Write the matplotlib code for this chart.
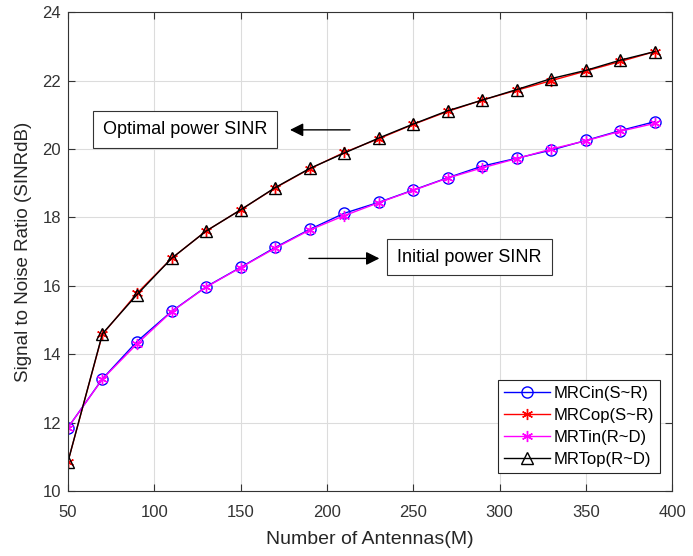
import matplotlib
matplotlib.use("Agg")
import matplotlib.pyplot as plt

plt.rcParams['font.family'] = ['Liberation Sans', 'DejaVu Sans']

antennas = [50, 70, 90, 110, 130, 150, 170, 190, 210, 230, 250, 270, 290, 310, 330, 350, 370, 390]
mrc_in = [11.85, 13.28, 14.37, 15.25, 15.97, 16.54, 17.12, 17.65, 18.12, 18.44, 18.8, 19.16, 19.5, 19.73, 19.97, 20.25, 20.54, 20.8]
mrc_op = [10.85, 14.58, 15.78, 16.8, 17.6, 18.22, 18.86, 19.42, 19.9, 20.3, 20.72, 21.1, 21.43, 21.72, 22.0, 22.28, 22.56, 22.85]
mrt_in = [11.85, 13.27, 14.3, 15.24, 15.96, 16.53, 17.1, 17.63, 18.05, 18.43, 18.79, 19.15, 19.45, 19.72, 20.0, 20.24, 20.52, 20.75]
mrt_op = [10.85, 14.6, 15.74, 16.8, 17.6, 18.22, 18.87, 19.43, 19.88, 20.32, 20.73, 21.12, 21.43, 21.74, 22.06, 22.3, 22.6, 22.85]

labels = ['MRCin(S~R)', 'MRCop(S~R)', 'MRTin(R~D)', 'MRTop(R~D)']
xticks = [50, 100, 150, 200, 250, 300, 350, 400]
yticks = [10, 12, 14, 16, 18, 20, 22, 24]

fig = plt.figure(figsize=(6.93, 5.56), dpi=100)
ax = fig.add_axes([0.098, 0.117, 0.872, 0.861])

ast = (6, 2, 0)
ax.plot(antennas, mrc_in, color='blue', marker='o', markersize=8, markerfacecolor='none', lw=1, label=labels[0])
ax.plot(antennas, mrc_op, color='red', marker=ast, markersize=8, lw=1, label=labels[1])
ax.plot(antennas, mrt_in, color='magenta', marker=ast, markersize=8, lw=1, label=labels[2])
ax.plot(antennas, mrt_op, color='black', marker='^', markersize=8, markerfacecolor='none', lw=1, label=labels[3])

ax.set_xlim(50, 400)
ax.set_ylim(10, 24)
ax.set_xticks(xticks)
ax.set_yticks(yticks)
ax.grid(True, color='#dcdcdc', lw=0.8)
ax.set_axisbelow(True)
ax.tick_params(direction='in', top=True, right=True, labelsize=12, colors='#333333', length=5)
ax.tick_params(axis='x', pad=10)
ax.tick_params(axis='y', pad=5)
for s in ax.spines.values():
    s.set_color('#333333')
    s.set_linewidth(0.8)

ax.set_xlabel('Number of Antennas(M)', fontsize=14, color='#262626', labelpad=8)
ax.set_ylabel('Signal to Noise Ratio (SINRdB)', fontsize=13.5, color='#262626', labelpad=7)

leg = ax.legend(loc='lower right', fontsize=12, fancybox=False, edgecolor='#262626',
                framealpha=1, handlelength=2.8, borderpad=0.35, labelspacing=0.42,
                handletextpad=0.2, borderaxespad=0, bbox_to_anchor=(0.98, 0.038))
leg.get_frame().set_linewidth(0.8)

bbox = dict(boxstyle='square,pad=0.55', fc='white', ec='#333333', lw=0.8)
ax.text(118, 20.56, 'Optimal power SINR', ha='center', va='center', fontsize=13, bbox=bbox)
ax.annotate('', xy=(177, 20.56), xytext=(215, 20.56),
            arrowprops=dict(arrowstyle='-|>', color='black', lw=1, mutation_scale=20))
ax.text(282.5, 16.84, 'Initial power SINR', ha='center', va='center', fontsize=13, bbox=bbox)
ax.annotate('', xy=(232, 16.8), xytext=(188, 16.8),
            arrowprops=dict(arrowstyle='-|>', color='black', lw=1, mutation_scale=20))

fig.savefig('out.png', dpi=100)
